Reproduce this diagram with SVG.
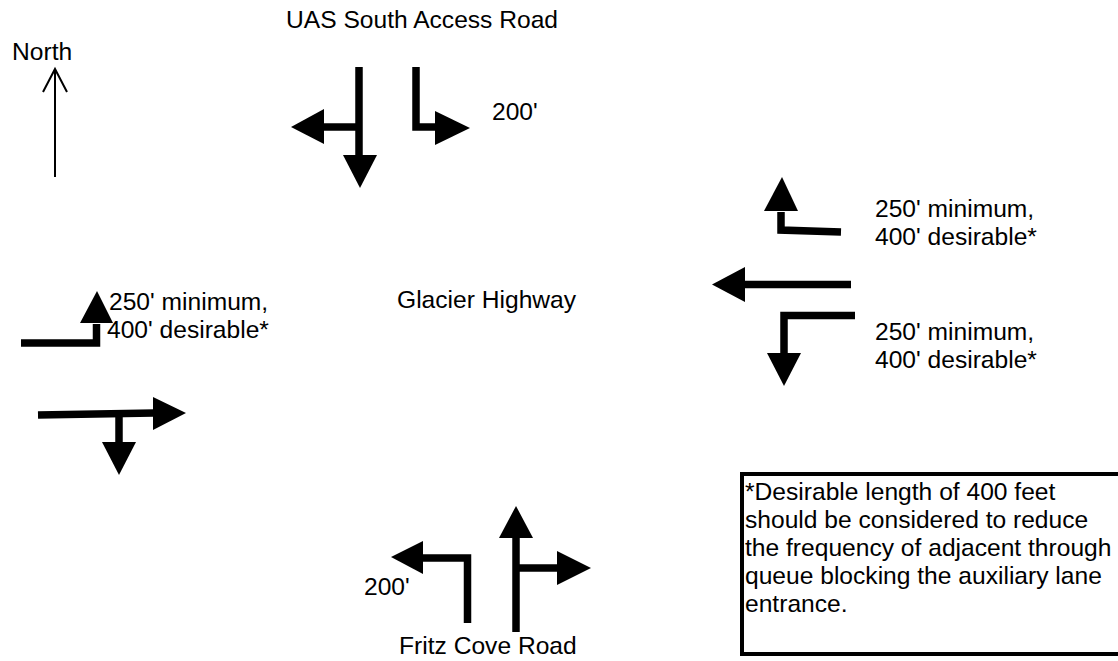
<svg xmlns="http://www.w3.org/2000/svg" width="1118" height="661" viewBox="0 0 1118 661">
<style>
.lane{stroke:#000;stroke-width:7.5;fill:none;stroke-linejoin:miter;stroke-linecap:butt}
.head{fill:#000;stroke:none}
.thin{stroke:#000;stroke-width:2;fill:none}
text{font-family:"Liberation Sans",Arial,sans-serif;font-size:24.6px;fill:#000}
</style>
<rect x="0" y="0" width="1118" height="661" fill="#fff"/>
<g id="north-arrow">
<text x="12" y="60">North</text>
<line class="thin" x1="55" y1="69" x2="55" y2="177"/>
<polyline class="thin" points="43,92 55,69 67,92"/>
</g>
<g id="labels">
<text x="286" y="28">UAS South Access Road</text>
<text x="492" y="120">200'</text>
<text x="397" y="308">Glacier Highway</text>
<text x="109" y="310">250' minimum,</text>
<text x="107" y="338">400' desirable*</text>
<text x="875" y="217">250' minimum,</text>
<text x="875" y="245">400' desirable*</text>
<text x="875" y="340">250' minimum,</text>
<text x="875" y="368">400' desirable*</text>
<text x="364" y="595">200'</text>
<text x="399" y="654">Fritz Cove Road</text>
</g>
<g id="note">
<rect x="742" y="474" width="420" height="180" fill="none" stroke="#000" stroke-width="4"/>
<text x="745" y="500">*Desirable length of 400 feet</text>
<text x="745" y="528">should be considered to reduce</text>
<text x="745" y="556">the frequency of adjacent through</text>
<text x="745" y="584">queue blocking the auxiliary lane</text>
<text x="745" y="612">entrance.</text>
</g>
<g id="connectors">
<g id="southbound">
<line class="lane" x1="359" y1="67" x2="359" y2="156"/>
<polygon class="head" points="343,155 377,155 360,188"/>
<line class="lane" x1="362" y1="127" x2="322" y2="127"/>
<polygon class="head" points="324,109 324,144 291,127"/>
<polyline class="lane" points="416,67 416,127 436,127"/>
<polygon class="head" points="435,111 435,145 470,128"/>
</g>
<g id="westbound">
<polyline class="lane" points="841,232 781,230 781,212"/>
<polygon class="head" points="764,211 798,211 782,177"/>
<line class="lane" x1="851" y1="284.5" x2="744" y2="284.5"/>
<polygon class="head" points="745,267 745,302 712,284.5"/>
<polyline class="lane" points="855,315.5 784,315.5 784,354"/>
<polygon class="head" points="767,353 801,353 784,386"/>
</g>
<g id="eastbound">
<polyline class="lane" points="21,343 96.5,343 96.5,324"/>
<polygon class="head" points="80,323 113,323 97,291"/>
<line class="lane" x1="38" y1="415" x2="154" y2="413"/>
<polygon class="head" points="153,397 153,430 186,413"/>
<line class="lane" x1="119" y1="414" x2="119" y2="443"/>
<polygon class="head" points="102,442 136,442 119,475"/>
</g>
<g id="northbound">
<polyline class="lane" points="467.5,623 467.5,558 422,558"/>
<polygon class="head" points="423,541 423,574 391,557"/>
<line class="lane" x1="516" y1="632" x2="516" y2="537"/>
<polygon class="head" points="499,538 533,538 516,506"/>
<line class="lane" x1="516" y1="568" x2="558" y2="568"/>
<polygon class="head" points="557,551 557,585 591,568"/>
</g>
</g>
</svg>
